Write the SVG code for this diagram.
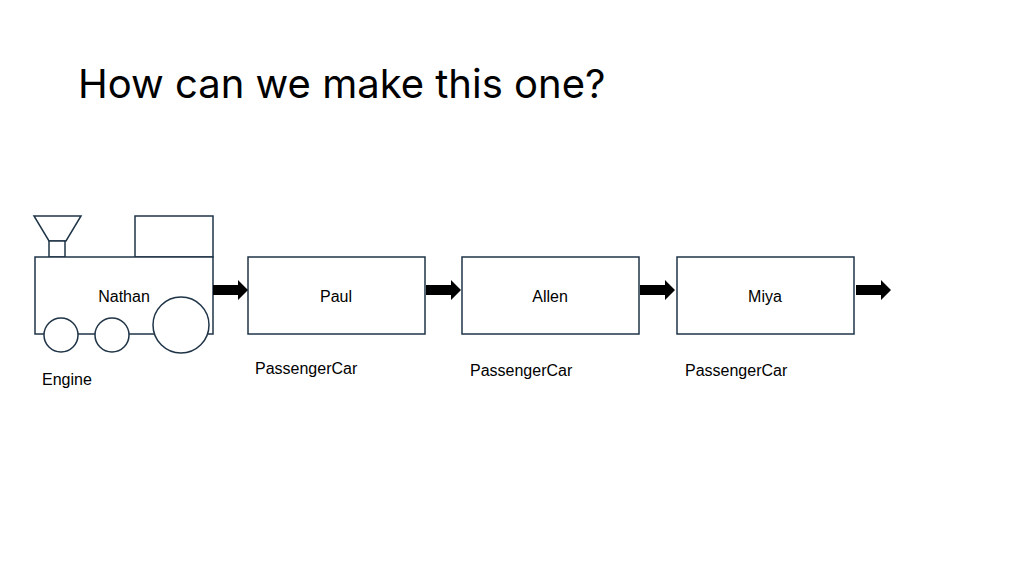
<svg xmlns="http://www.w3.org/2000/svg" width="1024" height="576" viewBox="0 0 1024 576">
<style>
.s{fill:#fff;stroke:#1f3447;stroke-width:1.5}
.t{font-family:"Liberation Sans",Arial,sans-serif;font-size:16px;fill:#000}
.a{fill:#000}
</style>
<rect width="1024" height="576" fill="#fff"/>
<text x="78" y="98" font-family="Inter,'Liberation Sans',sans-serif" font-size="40" fill="#000">How can we make this one?</text>
<g id="engine">
<polygon class="s" points="34,216 81,216 66,241 49,241"/>
<rect class="s" x="49" y="241" width="16" height="16"/>
<rect class="s" x="135" y="216" width="78" height="41"/>
<rect class="s" x="35" y="257" width="178" height="77"/>
<circle class="s" cx="61" cy="335" r="17"/>
<circle class="s" cx="112" cy="335" r="17"/>
<circle class="s" cx="181" cy="325" r="28"/>
<text class="t" x="124" y="302" text-anchor="middle">Nathan</text>
<text class="t" x="42" y="385">Engine</text>
</g>
<g id="paul">
<rect class="s" x="248" y="257" width="177" height="77"/>
<text class="t" x="336" y="302" text-anchor="middle">Paul</text>
<text class="t" x="255" y="374">PassengerCar</text>
</g>
<g id="allen">
<rect class="s" x="462" y="257" width="177" height="77"/>
<text class="t" x="550" y="302" text-anchor="middle">Allen</text>
<text class="t" x="470" y="376">PassengerCar</text>
</g>
<g id="miya">
<rect class="s" x="677" y="257" width="177" height="77"/>
<text class="t" x="765" y="302" text-anchor="middle">Miya</text>
<text class="t" x="685" y="376">PassengerCar</text>
</g>
<g id="connectors">
<defs><path id="ar" class="a" d="M0,-5 H25 V-10 L35,0 L25,10 V5 H0 Z"/></defs>
<use href="#ar" x="213" y="290"/>
<use href="#ar" x="426" y="290"/>
<use href="#ar" x="640" y="290"/>
<use href="#ar" x="856" y="290"/>
</g>
</svg>
